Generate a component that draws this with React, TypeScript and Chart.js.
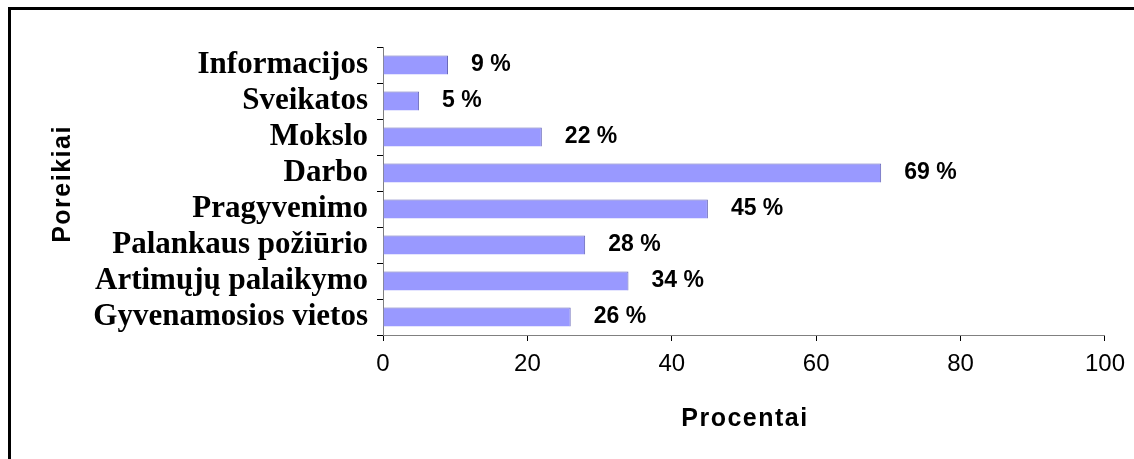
import React, { useEffect, useRef } from "react";
import { Chart, registerables } from "chart.js";

Chart.register(...registerables);

const categories = [
  "Informacijos",
  "Sveikatos",
  "Mokslo",
  "Darbo",
  "Pragyvenimo",
  "Palankaus požiūrio",
  "Artimųjų palaikymo",
  "Gyvenamosios vietos",
];
const values = [9, 5, 22, 69, 45, 28, 34, 26];
const xTicks = [0, 20, 40, 60, 80, 100];
const xTitle = "Procentai";
const yTitle = "Poreikiai";

const SANS = '"Liberation Sans", Arial, sans-serif';
const SERIF = '"Liberation Serif", "Times New Roman", serif';

const spacedTitles = {
  id: "spacedTitles",
  beforeDraw(chart: any) {
    for (const id of ["x", "y"]) {
      const s: any = chart.scales[id];
      if (!s || s._patched) continue;
      s._patched = true;
      s.drawTitle = function () {
        const t = this.options.title;
        if (!t || !t.display) return;
        const c: any = this.ctx;
        c.save();
        c.font = `bold 25px ${SANS}`;
        c.fillStyle = "#000";
        c.letterSpacing = "1.5px";
        c.textAlign = "center";
        c.textBaseline = "middle";
        if (this.axis === "x") {
          c.fillText(t.text, (this.left + this.right) / 2 + 1, this.bottom - 40);
        } else {
          c.translate(this.left + 63, (this.top + this.bottom) / 2 - 6);
          c.rotate(-Math.PI / 2);
          c.fillText(t.text, 1, 0);
        }
        c.restore();
      };
    }
  },
};

const barLabels = {
  id: "barLabels",
  afterDatasetsDraw(chart: any) {
    const ctx = chart.ctx;
    const meta = chart.getDatasetMeta(0);
    ctx.save();
    ctx.font = `bold 23px ${SANS}`;
    ctx.fillStyle = "#000";
    ctx.textAlign = "left";
    ctx.textBaseline = "middle";
    meta.data.forEach((bar: any, i: number) => {
      ctx.fillText(`${values[i]} %`, bar.x + 23, bar.y);
    });
    ctx.restore();
  },
};

export default function App() {
  const ref = useRef<HTMLCanvasElement>(null);
  useEffect(() => {
    if (!ref.current) return;
    const chart = new Chart(ref.current, {
      type: "bar",
      data: {
        labels: categories,
        datasets: [
          {
            data: values,
            backgroundColor: "#9999FF",
            borderColor: "#6666B8",
            borderWidth: { top: 1, right: 1, bottom: 0, left: 0 },
            borderSkipped: false,
            barPercentage: 0.53,
            categoryPercentage: 1,
          },
        ],
      },
      options: {
        indexAxis: "y",
        animation: false,
        responsive: false,
        devicePixelRatio: 1,
        layout: { padding: { left: 0, top: 47, right: 26, bottom: 0 } },
        plugins: {
          legend: { display: false },
          tooltip: { enabled: false },
        },
        scales: {
          x: {
            min: 0,
            max: 100,
            afterBuildTicks: (s: any) => {
              s.ticks = xTicks.map((v) => ({ value: v }));
            },
            afterFit: (s: any) => {
              s.height = 124;
            },
            grid: {
              drawOnChartArea: false,
              tickLength: 6,
              color: "#000",
            },
            border: { color: "#808080", width: 1 },
            ticks: {
              color: "#000",
              padding: 9,
              autoSkip: false,
              font: { family: SANS, size: 24, weight: "normal" },
            },
            title: { display: true, text: xTitle, color: "#000" },
          },
          y: {
            afterFit: (s: any) => {
              s.width = 383;
            },
            grid: {
              drawOnChartArea: false,
              tickLength: 6,
              color: "#000",
              offset: true,
            },
            border: { color: "#808080", width: 1 },
            ticks: {
              color: "#000",
              padding: 9,
              autoSkip: false,
              font: { family: SERIF, size: 31, weight: "bold" },
            },
            title: { display: true, text: yTitle, color: "#000" },
          },
        },
      },
      plugins: [spacedTitles, barLabels],
    } as any);
    return () => chart.destroy();
  }, []);

  return (
    <div style={{ position: "fixed", left: 0, top: 0, width: 1134, height: 459, background: "#fff" }}>
      <canvas ref={ref} width={1134} height={459} style={{ position: "absolute", left: 0, top: 0 }} />
      <div
        style={{
          position: "absolute",
          left: 8,
          top: 7,
          width: 1126,
          height: 452,
          borderTop: "3px solid #000",
          borderLeft: "3px solid #000",
          boxSizing: "border-box",
          pointerEvents: "none",
        }}
      />
    </div>
  );
}
